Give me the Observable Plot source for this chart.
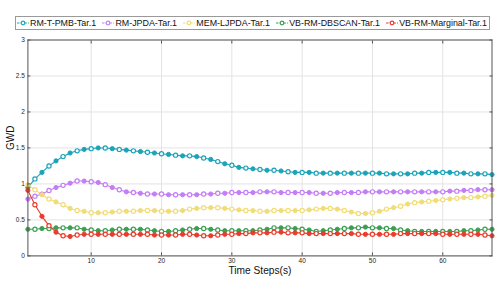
<!DOCTYPE html>
<html>
<head>
<meta charset="utf-8">
<script src="https://cdn.jsdelivr.net/npm/d3@7"></script>
<script src="https://cdn.jsdelivr.net/npm/@observablehq/plot@0.6"></script>
<style>
  body { margin: 0; background: #fff; }
  #wrap { position: relative; width: 498px; height: 281px; font-family: "Liberation Sans", Arial, sans-serif; }
  #legend { position: absolute; left: 15px; top: 16px; width: 470px; height: 12px; border: 1px solid #9a9a9a; background: #fff;
            display: flex; align-items: center; justify-content: space-between; padding: 0 2px 0 1px; box-sizing: content-box; font-size: 8.9px; color: #111; }
  .item { display: flex; align-items: center; white-space: nowrap; }
  .item svg { margin-right: 1px; }
</style>
</head>
<body>
<div id="wrap"><div id="legend"></div></div>
<script>
const steps = d3.range(1, 68);
const seriesNames = ["RM-T-PMB-Tar.1", "RM-JPDA-Tar.1", "MEM-LJPDA-Tar.1", "VB-RM-DBSCAN-Tar.1", "VB-RM-Marginal-Tar.1"];
const seriesColors = ["#1ba4b9", "#c57cf7", "#f2dc76", "#3b9e52", "#ea3b2b"];
const xTicks = [10, 20, 30, 40, 50, 60];
const yTicks = [0, 0.5, 1, 1.5, 2, 2.5, 3];
const yTickLabels = ["0", "0.5", "1", "1.5", "2", "2.5", "3"];

const rmTPMB = [0.95,1.07,1.16,1.25,1.32,1.38,1.43,1.46,1.48,1.49,1.50,1.50,1.49,1.48,1.47,1.46,1.45,1.44,1.43,1.42,
  1.41,1.40,1.39,1.39,1.38,1.36,1.34,1.31,1.28,1.26,1.23,1.22,1.21,1.20,1.19,1.19,1.18,1.17,1.16,1.16,
  1.16,1.15,1.15,1.15,1.15,1.15,1.15,1.15,1.15,1.15,1.15,1.14,1.14,1.14,1.14,1.15,1.15,1.16,1.16,1.16,
  1.16,1.15,1.15,1.14,1.14,1.14,1.13];
const rmJPDA = [0.79,0.83,0.86,0.91,0.95,0.98,1.01,1.04,1.04,1.03,1.02,0.99,0.95,0.92,0.89,0.88,0.87,0.86,0.86,0.86,
  0.85,0.85,0.85,0.85,0.85,0.86,0.86,0.87,0.87,0.88,0.88,0.88,0.88,0.89,0.89,0.89,0.88,0.88,0.88,0.88,
  0.88,0.87,0.87,0.87,0.88,0.88,0.88,0.88,0.89,0.89,0.89,0.89,0.89,0.89,0.89,0.89,0.89,0.89,0.89,0.89,
  0.90,0.90,0.91,0.91,0.92,0.92,0.92];
const memLJPDA = [0.99,0.92,0.85,0.79,0.75,0.71,0.66,0.63,0.62,0.60,0.60,0.60,0.61,0.62,0.62,0.62,0.63,0.63,0.63,0.62,
  0.62,0.62,0.63,0.65,0.66,0.67,0.67,0.67,0.66,0.65,0.64,0.63,0.63,0.62,0.62,0.63,0.63,0.63,0.63,0.63,
  0.64,0.65,0.66,0.66,0.65,0.63,0.61,0.59,0.59,0.60,0.62,0.65,0.67,0.69,0.72,0.74,0.75,0.76,0.77,0.78,
  0.79,0.80,0.81,0.81,0.82,0.83,0.84];
const vbDBSCAN = [0.37,0.37,0.38,0.38,0.39,0.39,0.39,0.39,0.37,0.36,0.35,0.35,0.36,0.37,0.37,0.37,0.37,0.36,0.35,0.34,
  0.34,0.35,0.36,0.37,0.38,0.38,0.37,0.36,0.35,0.35,0.35,0.35,0.35,0.36,0.37,0.39,0.39,0.39,0.38,0.37,
  0.36,0.34,0.35,0.36,0.37,0.38,0.39,0.39,0.40,0.39,0.39,0.38,0.38,0.36,0.35,0.34,0.34,0.34,0.34,0.34,
  0.34,0.34,0.35,0.35,0.36,0.37,0.37];
const vbMarginal = [0.91,0.71,0.55,0.42,0.33,0.28,0.27,0.29,0.30,0.30,0.30,0.30,0.30,0.30,0.30,0.30,0.30,0.30,0.29,0.29,
  0.29,0.29,0.30,0.30,0.29,0.28,0.28,0.29,0.30,0.30,0.31,0.31,0.32,0.32,0.32,0.33,0.33,0.32,0.32,0.32,
  0.31,0.31,0.31,0.31,0.31,0.31,0.31,0.30,0.30,0.30,0.30,0.30,0.30,0.31,0.31,0.31,0.31,0.31,0.31,0.30,
  0.30,0.30,0.30,0.30,0.30,0.29,0.28];

const allSeries = [rmTPMB, rmJPDA, memLJPDA, vbDBSCAN, vbMarginal];
const data = [];
allSeries.forEach((vals, si) => vals.forEach((v, i) => data.push({series: seriesNames[si], t: steps[i], v})));

const chart = Plot.plot({
  width: 498,
  height: 281,
  marginLeft: 27.4,
  marginRight: 6.5,
  marginTop: 39.5,
  marginBottom: 25.6,
  style: {fontFamily: "Liberation Sans, Arial, sans-serif", fontSize: "6.5px", color: "#262626", background: "transparent"},
  x: {domain: [1, 67]},
  y: {domain: [0, 3]},
  color: {domain: seriesNames, range: seriesColors},
  marks: [
    Plot.gridX(xTicks, {stroke: "#e3e3e3", strokeOpacity: 1}),
    Plot.gridY(yTicks, {stroke: "#e3e3e3", strokeOpacity: 1}),
    Plot.line(data, {x: "t", y: "v", z: "series", stroke: "series", strokeWidth: 1.1}),
    Plot.dot(data, {filter: d => d.t % 2 === 1, x: "t", y: "v", stroke: "series", fill: "series", r: 2.1, strokeWidth: 1}),
    Plot.dot(data, {filter: d => d.t % 2 === 0, x: "t", y: "v", stroke: "series", fill: "white", r: 2.1, strokeWidth: 1.2}),
    Plot.frame({stroke: "#555", strokeWidth: 1}),
    Plot.axisX(xTicks, {anchor: "bottom", tickSize: -3, tickPadding: 5, label: null, stroke: "#555", fill: "#262626"}),
    Plot.axisX(xTicks, {anchor: "top", tickSize: -3, tickFormat: () => "", label: null, stroke: "#555"}),
    Plot.axisY(yTicks, {anchor: "left", tickSize: -3, tickPadding: 6, label: null, tickFormat: (d, i) => yTickLabels[i], stroke: "#555", fill: "#262626"}),
    Plot.axisY(yTicks, {anchor: "right", tickSize: -3, tickFormat: () => "", label: null, stroke: "#555"}),
    Plot.text(["Time Steps(s)"], {frameAnchor: "bottom", dy: 18.5, fontSize: 10.2, fill: "#111"}),
    Plot.text(["GWD"], {frameAnchor: "left", dx: -17.4, dy: 2, rotate: -90, fontSize: 10, fill: "#111"})
  ]
});
const wrap = document.getElementById("wrap");
wrap.appendChild(chart);

const legend = document.getElementById("legend");
seriesNames.forEach((name, i) => {
  const item = document.createElement("div");
  item.className = "item";
  const c = seriesColors[i];
  item.innerHTML = `<svg width="12" height="8"><line x1="0" y1="4" x2="12" y2="4" stroke="${c}" stroke-width="1.1" stroke-dasharray="2.5,1.2"/><circle cx="6" cy="4" r="1.8" fill="white" stroke="${c}" stroke-width="1.2"/></svg><span>${name}</span>`;
  legend.appendChild(item);
});
</script>
</body>
</html>
